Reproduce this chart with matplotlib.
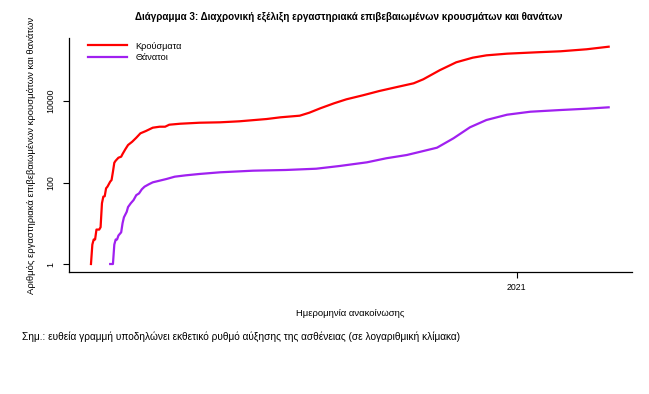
import numpy as np
import matplotlib
matplotlib.use("Agg")
import matplotlib.pyplot as plt

plt.rcParams['font.family'] = ['Liberation Sans Narrow', 'Liberation Sans', 'DejaVu Sans']

# cumulative lab-confirmed cases (log scale)
case_dates = ['2020-02-26', '2020-02-27', '2020-02-28', '2020-02-29', '2020-03-01', '2020-03-03',
              '2020-03-04', '2020-03-05', '2020-03-06', '2020-03-07', '2020-03-08', '2020-03-09',
              '2020-03-11', '2020-03-12', '2020-03-13', '2020-03-14', '2020-03-15', '2020-03-17',
              '2020-03-19', '2020-03-20', '2020-03-22', '2020-03-24', '2020-03-27', '2020-03-30',
              '2020-04-02', '2020-04-06', '2020-04-11', '2020-04-16', '2020-04-20', '2020-04-23',
              '2020-05-01', '2020-05-15', '2020-05-30', '2020-06-13', '2020-07-03', '2020-07-13',
              '2020-07-27', '2020-08-03', '2020-08-11', '2020-08-21', '2020-08-30', '2020-09-11',
              '2020-09-23', '2020-10-06', '2020-10-18', '2020-10-25', '2020-11-01', '2020-11-06',
              '2020-11-18', '2020-11-30', '2020-12-10', '2020-12-25', '2021-01-16', '2021-02-02',
              '2021-02-21', '2021-03-09']
cases = [1, 3, 4, 4, 7, 7,
         8, 31, 45, 46, 72, 79,
         105, 115, 184, 306, 343, 406,
         430, 500, 653, 832, 1000, 1256,
         1610, 1835, 2213, 2340, 2340, 2620,
         2770, 2930, 3000, 3175, 3615, 3980,
         4360, 5160, 6620, 8780, 11000, 13800,
         17600, 22100, 27200, 34100, 46000, 57000,
         89100, 115600, 132000, 145000, 157000, 166000,
         186000, 215000]

# cumulative deaths
death_dates = ['2020-03-11', '2020-03-13', '2020-03-14', '2020-03-15', '2020-03-16', '2020-03-17',
               '2020-03-19', '2020-03-20', '2020-03-21', '2020-03-23', '2020-03-24', '2020-03-26',
               '2020-03-28', '2020-03-30', '2020-04-01', '2020-04-03', '2020-04-05', '2020-04-08',
               '2020-04-11', '2020-04-16', '2020-04-21', '2020-04-27', '2020-05-05', '2020-05-15',
               '2020-05-30', '2020-06-23', '2020-07-17', '2020-08-08', '2020-08-25', '2020-09-14',
               '2020-09-28', '2020-10-13', '2020-10-23', '2020-11-04', '2020-11-16', '2020-11-28',
               '2020-12-10', '2020-12-25', '2021-01-11', '2021-02-02', '2021-02-21', '2021-03-09']
deaths = [1, 1, 3, 4, 4, 5,
          6, 10, 14, 19, 25, 31,
          37, 49, 54, 68, 79, 90,
          101, 111, 122, 139, 150, 162,
          178, 195, 203, 218, 254, 313,
          393, 473, 570, 715, 1216, 2264,
          3420, 4610, 5460, 6010, 6470, 7000]

y_ticks = [1, 100, 10000]
x_tick = '2021-01-01'
x_tick_label = '2021'

case_dates = np.array(case_dates, dtype='datetime64[D]')
death_dates = np.array(death_dates, dtype='datetime64[D]')

fig = plt.figure(figsize=(6.49, 3.94), dpi=100)
ax = fig.add_axes([69/649, 1-272/394, (632-69)/649, (272-38)/394])

ax.plot(case_dates, cases, color='#FF0000', lw=1.6, label='Κρούσματα')
ax.plot(death_dates, deaths, color='#A020F0', lw=1.6, label='Θάνατοι')

ax.set_yscale('log')
ax.set_ylim(10**-0.196, 10**5.546)
ax.set_xlim(np.datetime64('2020-02-10'), np.datetime64('2021-03-26'))

ax.set_yticks(y_ticks)
ax.set_yticklabels([str(v) for v in y_ticks], rotation=90, va='center')
ax.yaxis.set_minor_locator(matplotlib.ticker.NullLocator())
ax.set_xticks([np.datetime64(x_tick)])
ax.set_xticklabels([x_tick_label])
ax.xaxis.set_minor_locator(matplotlib.ticker.NullLocator())
ax.tick_params(labelsize=6.3, length=4, width=0.8)
ax.tick_params(axis='y', pad=6)
ax.tick_params(axis='x', pad=4)

for s in ['top', 'right']:
    ax.spines[s].set_visible(False)
for s in ['left', 'bottom']:
    ax.spines[s].set_linewidth(0.9)

ax.set_xlabel('Ημερομηνία ανακοίνωσης', fontsize=6.8, labelpad=12.5)
ax.set_ylabel('Αριθμός εργαστηριακά επιβεβαιωμένων κρουσμάτων και θανάτων', fontsize=6.8, labelpad=7)

ax.legend(loc='upper left', bbox_to_anchor=(19/563, 0.985), frameon=False, fontsize=6.6,
          handlelength=4.3, handletextpad=0.9, labelspacing=0.25, borderaxespad=0, borderpad=0)

fig.text(349/649, 1-17/394, 'Διάγραμμα 3: Διαχρονική εξέλιξη εργαστηριακά επιβεβαιωμένων κρουσμάτων και θανάτων',
         ha='center', va='center', fontsize=7.1, fontweight='bold')
fig.text(22/649, 1-337/394, 'Σημ.: ευθεία γραμμή υποδηλώνει εκθετικό ρυθμό αύξησης της ασθένειας (σε λογαριθμική κλίμακα)',
         ha='left', va='center', fontsize=7.3)

fig.savefig('out.png', dpi=100)
